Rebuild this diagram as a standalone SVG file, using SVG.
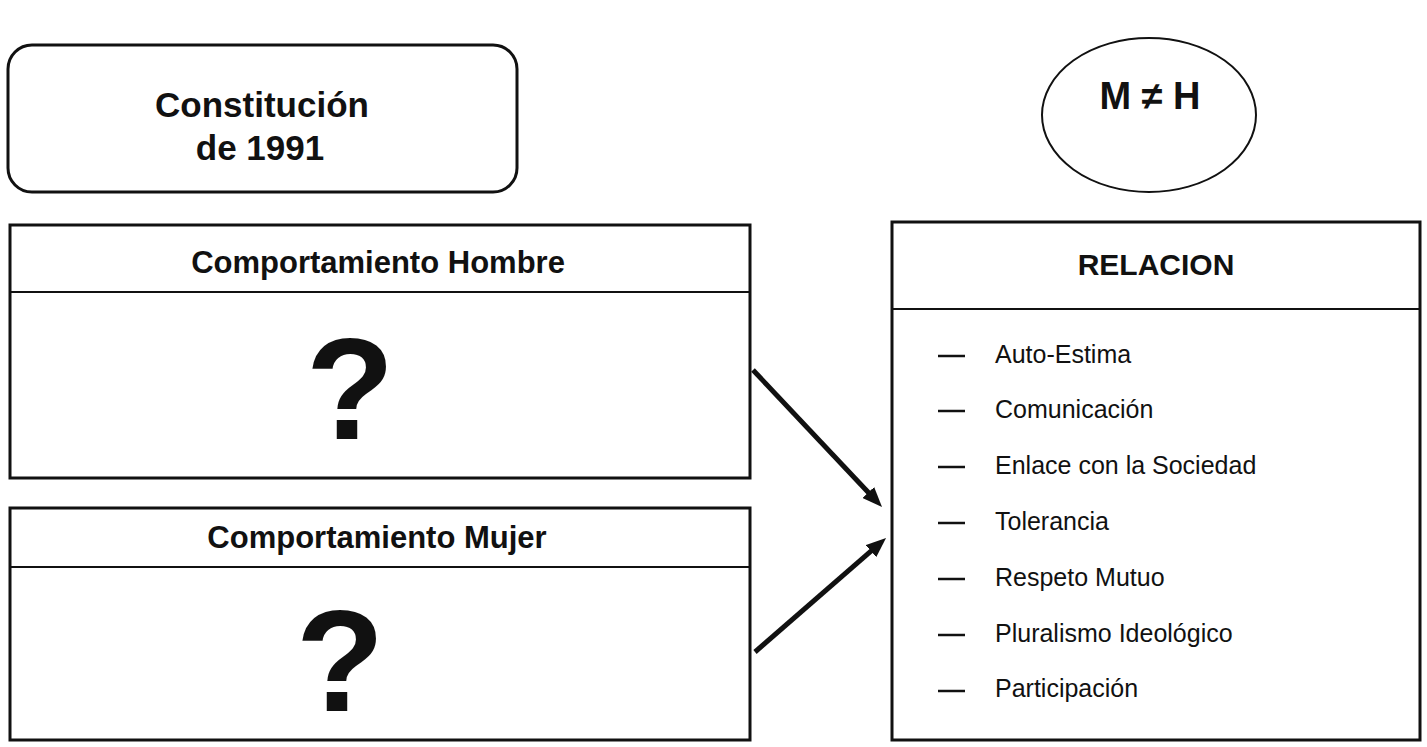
<svg xmlns="http://www.w3.org/2000/svg" width="1427" height="747" viewBox="0 0 1427 747">
<defs>
<style>
.box{fill:#fff;stroke:#111;stroke-width:3}
.div{stroke:#111;stroke-width:2}
.b{font-family:"Liberation Sans",Arial,sans-serif;font-weight:bold;fill:#111}
.r{font-family:"Liberation Sans",Arial,sans-serif;fill:#111;font-size:25px}
.q{font-family:"Liberation Sans",Arial,sans-serif;font-weight:bold;fill:#111;font-size:145px;text-anchor:middle}
.dash{stroke:#111;stroke-width:2.5}
.arr{stroke:#111;stroke-width:5;fill:none}
</style>
<marker id="ah" viewBox="0 0 20 16" refX="8" refY="8" markerWidth="20" markerHeight="16" markerUnits="userSpaceOnUse" orient="auto">
<path d="M0,0 L20,8 L0,16 z" fill="#111"/>
</marker>
</defs>
<rect width="1427" height="747" fill="#fff"/>
<g id="constitucion">
<rect class="box" x="8" y="45" width="509" height="147" rx="24" ry="24"/>
<text class="b" x="262" y="117" font-size="35" text-anchor="middle">Constitución</text>
<text class="b" x="260" y="160" font-size="35" text-anchor="middle">de 1991</text>
</g>
<g id="mh">
<ellipse cx="1149" cy="115" rx="107" ry="77" fill="#fff" stroke="#111" stroke-width="2"/>
<text class="b" x="1150" y="109" font-size="38" text-anchor="middle">M ≠ H</text>
</g>
<g id="hombre">
<rect class="box" x="10" y="225" width="740" height="253"/>
<line class="div" x1="10" y1="292" x2="750" y2="292"/>
<text class="b" x="378" y="273" font-size="31" text-anchor="middle">Comportamiento Hombre</text>
<text class="q" x="350" y="439">?</text>
</g>
<g id="mujer">
<rect class="box" x="10" y="508" width="740" height="232"/>
<line class="div" x1="10" y1="567" x2="750" y2="567"/>
<text class="b" x="377" y="548" font-size="31" text-anchor="middle">Comportamiento Mujer</text>
<text class="q" x="340" y="711">?</text>
</g>
<g id="relacion">
<rect class="box" x="892" y="222" width="528" height="518"/>
<line class="div" x1="892" y1="309" x2="1420" y2="309"/>
<text class="b" x="1156" y="275" font-size="30" text-anchor="middle">RELACION</text>
<line class="dash" x1="938" y1="356" x2="965" y2="356"/>
<text class="r" x="995" y="363">Auto-Estima</text>
<line class="dash" x1="938" y1="411" x2="965" y2="411"/>
<text class="r" x="995" y="418">Comunicación</text>
<line class="dash" x1="938" y1="467" x2="965" y2="467"/>
<text class="r" x="995" y="474">Enlace con la Sociedad</text>
<line class="dash" x1="938" y1="523" x2="965" y2="523"/>
<text class="r" x="995" y="530">Tolerancia</text>
<line class="dash" x1="938" y1="579" x2="965" y2="579" stroke-width="1.5"/>
<text class="r" x="995" y="586">Respeto Mutuo</text>
<line class="dash" x1="938" y1="635" x2="965" y2="635"/>
<text class="r" x="995" y="642">Pluralismo Ideológico</text>
<line class="dash" x1="938" y1="691" x2="965" y2="691"/>
<text class="r" x="995" y="697">Participación</text>
</g>
<g id="connectors">
<line class="arr" x1="753" y1="370" x2="873.8" y2="498.3" marker-end="url(#ah)"/>
<line class="arr" x1="755" y1="652" x2="877" y2="545.9" marker-end="url(#ah)"/>
</g>
</svg>
